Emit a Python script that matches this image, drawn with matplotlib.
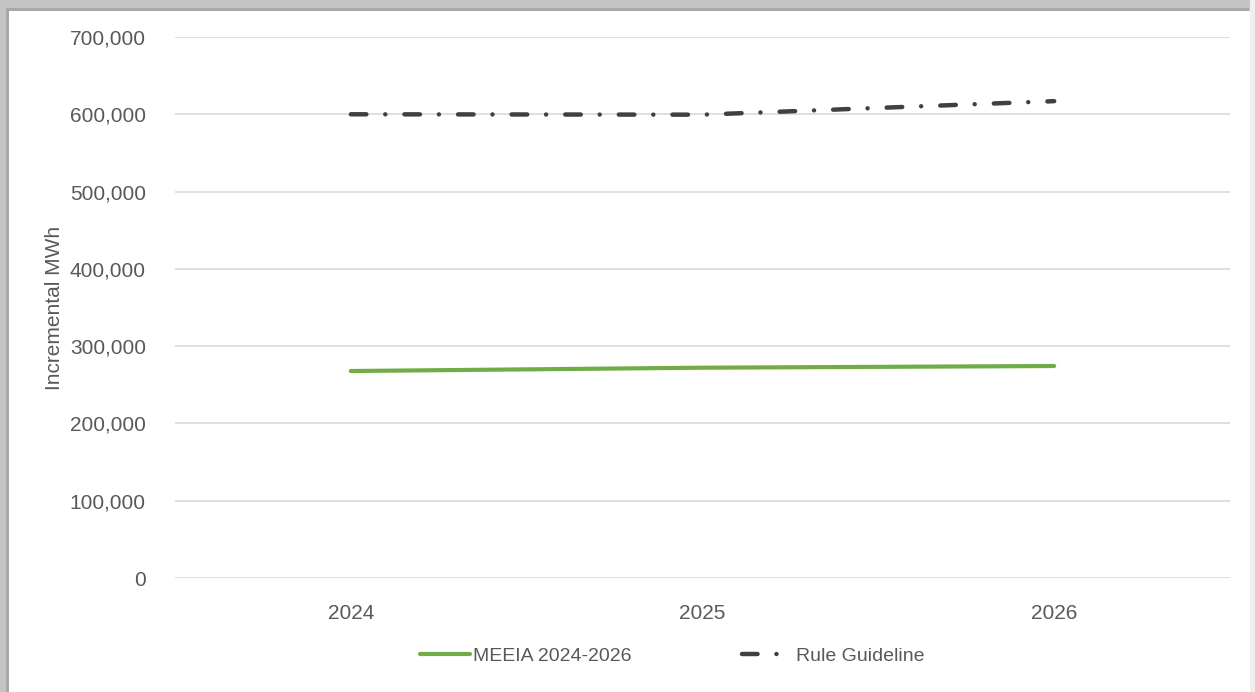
import matplotlib.pyplot as plt
from matplotlib.patches import Rectangle
from matplotlib.ticker import FuncFormatter

years = ['2024', '2025', '2026']
meeia = [267800, 272100, 274300]
rule_guideline = [600000, 599500, 617000]

plt.rcParams['font.family'] = ['Liberation Sans', 'DejaVu Sans']
txt = '#595959'

fig = plt.figure(figsize=(12.55, 6.92), dpi=100, facecolor='#c4c4c4')
# white card with grey shadow at top/left
fig.patches.append(Rectangle((6 / 1255, 0), 1243 / 1255, 684 / 692,
                             transform=fig.transFigure, facecolor='#a8a8a8',
                             edgecolor='none', zorder=-3))
fig.patches.append(Rectangle((9 / 1255, 0), 1241 / 1255, 681 / 692,
                             transform=fig.transFigure, facecolor='white',
                             edgecolor='none', zorder=-2))
fig.patches.append(Rectangle((1250 / 1255, 0), 5 / 1255, 1,
                             transform=fig.transFigure, facecolor='#f0f0f0',
                             edgecolor='none', zorder=-2))

ax = fig.add_axes([175 / 1255, 114 / 692, 1055 / 1255, 541 / 692])
ax.set_facecolor('none')
x = range(len(years))

ax.plot(x, meeia, color='#70ad47', lw=3.0, solid_capstyle='round',
        label='MEEIA 2024-2026', zorder=3)
ax.plot(x, rule_guideline, color='#404040', lw=3.2, dash_capstyle='round',
        dashes=(3.5, 4.25, 0.01, 4.3), label='Rule Guideline', zorder=3)

ax.set_xlim(-0.5, 2.5)
ax.set_ylim(0, 700000)
ax.set_yticks(range(0, 700001, 100000))
ax.yaxis.set_major_formatter(FuncFormatter(lambda v, p: f'{int(v):,}'))
ax.set_xticks(list(x))
ax.set_xticklabels(years)

ax.grid(axis='y', color='#d9d9d9', lw=1.2)
ax.set_axisbelow(True)
for s in ax.spines.values():
    s.set_visible(False)
ax.tick_params(length=0, labelsize=15, colors=txt, pad=21)
ax.tick_params(axis='x', pad=19)
ax.set_ylabel('Incremental MWh', fontsize=15, color=txt, labelpad=4)

leg = ax.legend(loc='upper center', bbox_to_anchor=(0.471, -0.095), ncol=2,
                frameon=False, fontsize=14, handlelength=2.6,
                handletextpad=0.15, columnspacing=5.7)
for t in leg.get_texts():
    t.set_color(txt)

fig.savefig('out.png', dpi=100, facecolor=fig.get_facecolor())
